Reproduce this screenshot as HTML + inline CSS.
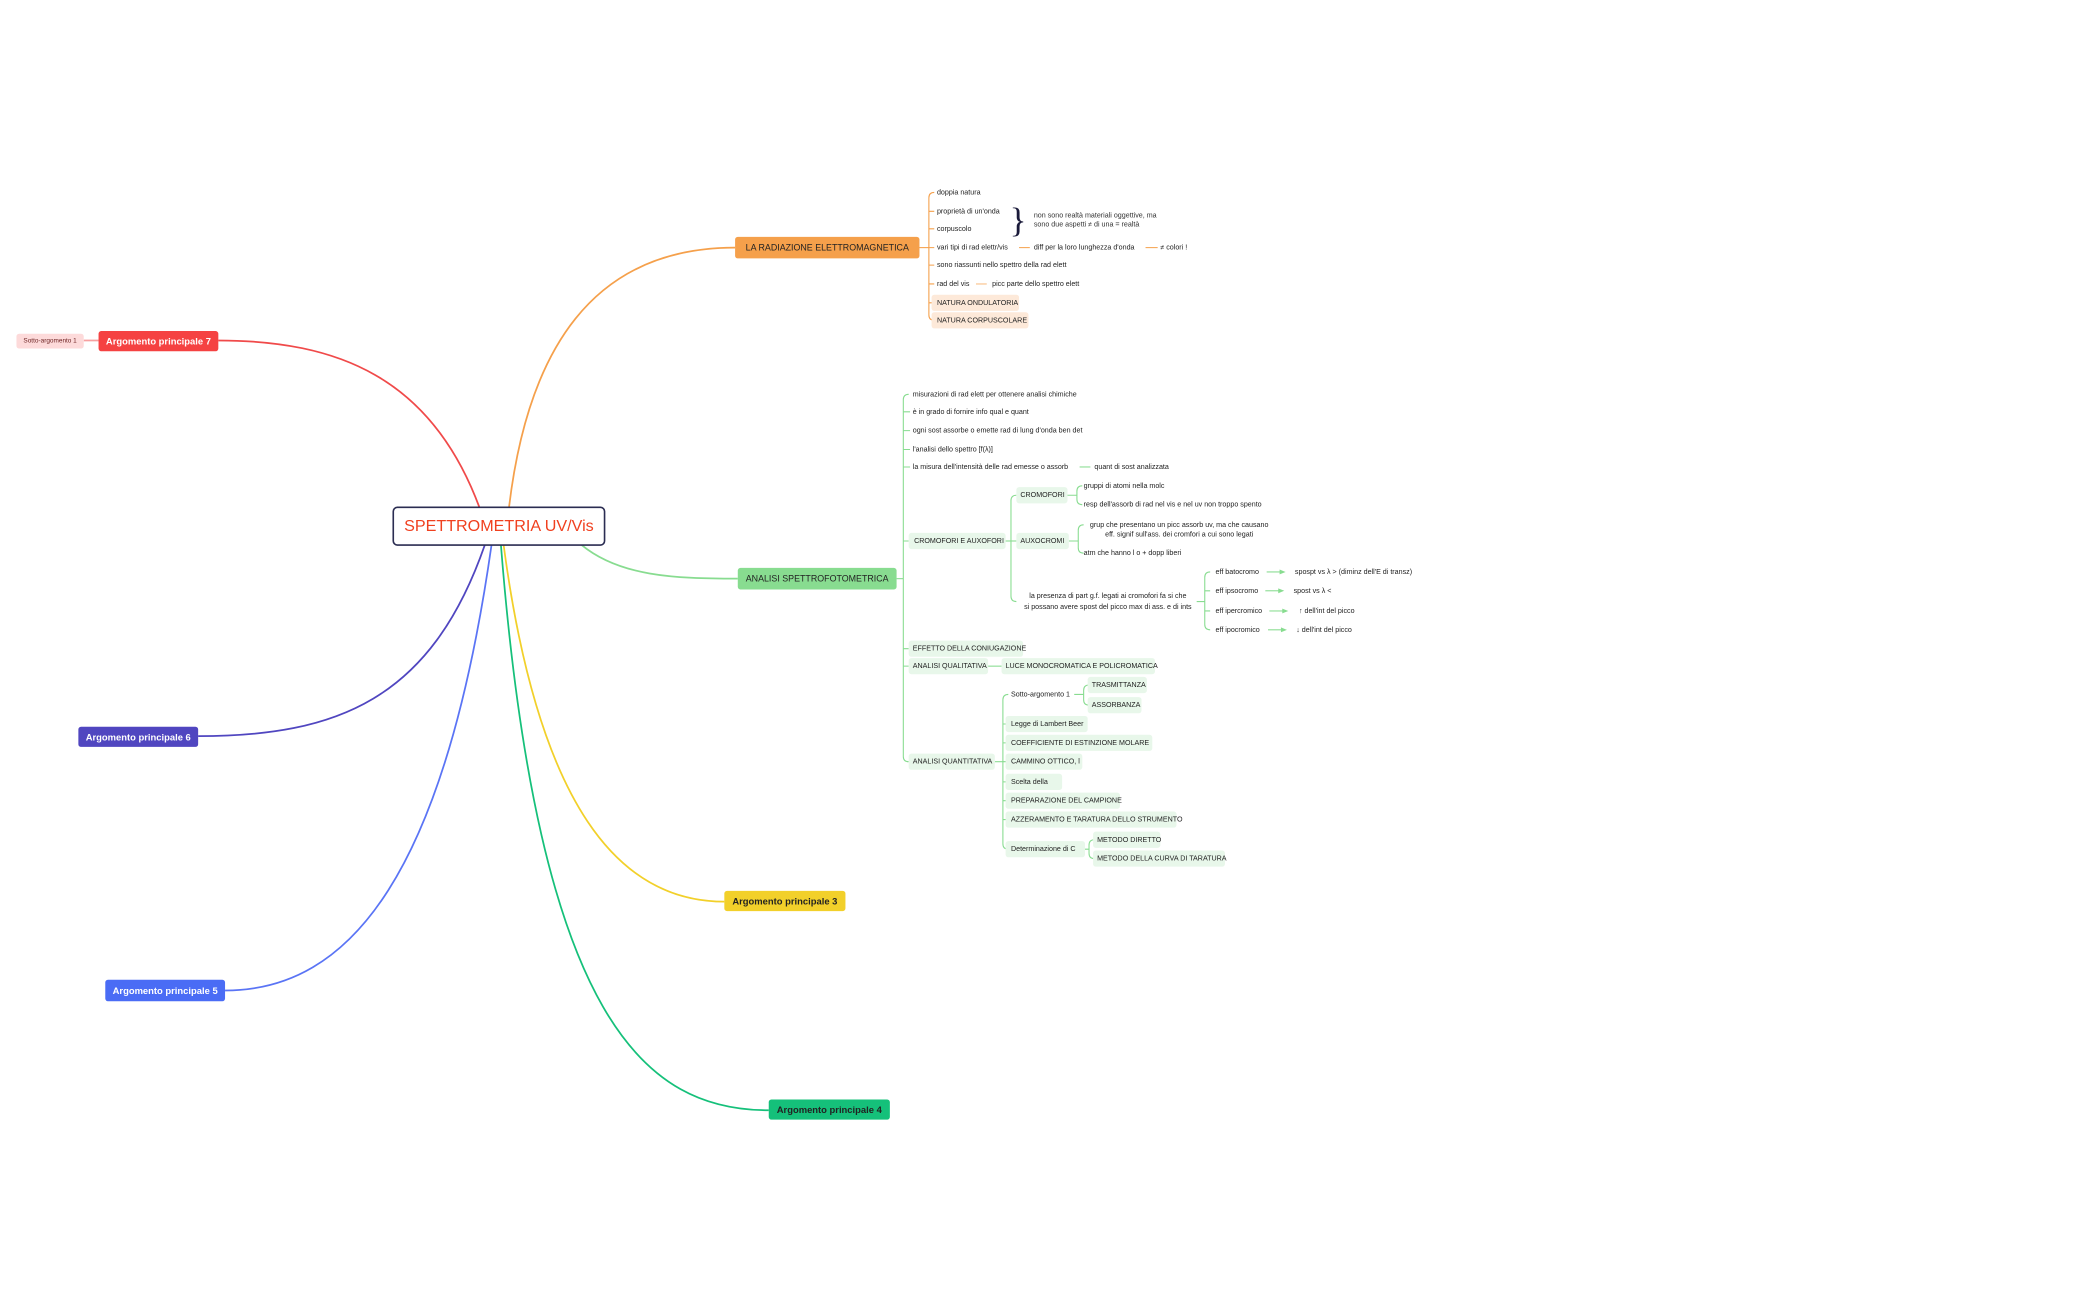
<!DOCTYPE html>
<html><head><meta charset="utf-8"><style>
html,body{margin:0;padding:0;background:#fff;}
svg{display:block}
text{font-family:"Liberation Sans",sans-serif;fill:#222;dominant-baseline:central}
.s{font-size:5.3px}
.m{font-size:7px;font-weight:bold}
</style></head><body>
<svg width="2100" height="1300" viewBox="0 0 1560 966" xmlns="http://www.w3.org/2000/svg">
<rect width="1560" height="966" fill="#fff"/>
<g fill="none" stroke-width="1.3">
<path d="M378,377 C392,260 440,184 546,184" stroke="#f5a04b"/>
<path d="M356,377 C320,280 250,253 162,253" stroke="#f04a4a"/>
<path d="M360,405 C320,520 250,547 147,547" stroke="#5046c0"/>
<path d="M365,405 C330,650 260,736 167,736" stroke="#5a74f5"/>
<path d="M374,405 C400,600 460,670 538,670" stroke="#f2d02a"/>
<path d="M372,405 C400,760 480,825 571,825" stroke="#15c07a"/>
<path d="M432,405 C460,428 500,430 548,430" stroke="#88dc90"/>
<path d="M62,253 L73,253" stroke="#f7a0a0"/>
</g>
<rect x="292" y="377" width="157" height="28" rx="3" fill="#fff" stroke="#2b2d52" stroke-width="1.2"/>
<text x="370.5" y="391" text-anchor="middle" style="font-size:12px;fill:#f0401f">SPETTROMETRIA UV/Vis</text>
<rect x="546" y="176" width="137" height="16" rx="2" fill="#f5a04b"/>
<text x="614.5" y="184" text-anchor="middle" style="font-size:6.6px;fill:#222">LA RADIAZIONE ELETTROMAGNETICA</text>
<rect x="548" y="422" width="118" height="16" rx="2" fill="#88dc90"/>
<text x="607" y="430" text-anchor="middle" style="font-size:6.6px;fill:#222">ANALISI SPETTROFOTOMETRICA</text>
<rect x="73" y="246" width="89" height="15" rx="2" fill="#f54242"/>
<text x="117.5" y="253.5" text-anchor="middle" class="m" style="fill:#fff">Argomento principale 7</text>
<rect x="12" y="248" width="50" height="11" rx="2" fill="#fddada"/>
<text x="37" y="253.5" text-anchor="middle" style="font-size:4.8px;fill:#6a1f1f">Sotto-argomento 1</text>
<rect x="58" y="540" width="89" height="15" rx="2" fill="#5046c0"/>
<text x="102.5" y="547.5" text-anchor="middle" class="m" style="fill:#fff">Argomento principale 6</text>
<rect x="78" y="728" width="89" height="16" rx="2" fill="#4a6cf5"/>
<text x="122.5" y="736" text-anchor="middle" class="m" style="fill:#fff">Argomento principale 5</text>
<rect x="538" y="662" width="90" height="15" rx="2" fill="#f2d02a"/>
<text x="583" y="669.5" text-anchor="middle" class="m">Argomento principale 3</text>
<rect x="571" y="817" width="90" height="15" rx="2" fill="#15c07a"/>
<text x="616" y="824.5" text-anchor="middle" class="m">Argomento principale 4</text>

<g fill="none" stroke="#f5a04b" stroke-width="0.8">
<path d="M683,184 H690"/>
<path d="M694,143 Q690,143 690,147 V234 Q690,238 694,238"/>
<path d="M690,157 H694 M690,170 H694 M690,184 H694 M690,197 H694 M690,211 H694 M690,225 H694"/>
<path d="M757,184 H765 M851,184 H860"/>
<path d="M725,211 H733" stroke="#fbd3ad" stroke-width="1.2"/>
</g>
<text x="696" y="143" class="s">doppia natura</text>
<text x="696" y="157" class="s">proprietà di un'onda</text>
<text x="696" y="170" class="s">corpuscolo</text>
<text x="750" y="164" style="font-size:26px;fill:#1a1a3a;font-family:'Liberation Serif',serif">}</text>
<text x="768" y="160" class="s" style="fill:#333">non sono realtà materiali oggettive, ma</text>
<text x="768" y="167" class="s" style="fill:#333">sono due aspetti ≠ di una = realtà</text>
<text x="696" y="184" class="s">vari tipi di rad elettr/vis</text>
<text x="768" y="184" class="s">diff per la loro lunghezza d'onda</text>
<text x="862" y="184" class="s">≠ colori !</text>
<text x="696" y="197" class="s">sono riassunti nello spettro della rad elett</text>
<text x="696" y="211" class="s">rad del vis</text>
<text x="737" y="211" class="s">picc parte dello spettro elett</text>
<rect x="692" y="219" width="65" height="12" rx="2" fill="#fde9d9"/>
<text x="696" y="225" class="s">NATURA ONDULATORIA</text>
<rect x="692" y="232" width="72" height="12" rx="2" fill="#fde9d9"/>
<text x="696" y="238" class="s">NATURA CORPUSCOLARE</text>

<g fill="none" stroke="#88dc90" stroke-width="0.8">
<path d="M666,430 H671"/>
<path d="M675,293 Q671,293 671,297 V562 Q671,566 675,566"/>
<path d="M671,306 H676 M671,320 H676 M671,334 H676 M671,347 H676 M671,402 H675 M671,482 H675 M671,495 H675"/>
<path d="M802,347 H810"/>
<path d="M747,402 H755"/>
<path d="M755,368 Q751,368 751,372 V443 Q751,447 755,447"/>
<path d="M793,368 H800 M804,361 Q800,361 800,365 V371 Q800,375 804,375"/>
<path d="M794,402 H801 M805,390 Q801,390 801,394 V407 Q801,411 805,411"/>
<path d="M889,447 H895 M899,425 Q895,425 895,429 V464 Q895,468 899,468"/>
<path d="M895,439 H899 M895,454 H899"/>
<path d="M734,495 H744"/>
<path d="M739,566 H745"/>
<path d="M749,516 Q745,516 745,520 V627 Q745,631 749,631"/>
<path d="M745,538 H748 M745,552 H748 M745,566 H748 M745,581 H748 M745,595 H748 M745,609 H748"/>
<path d="M798,516 H805 M809,509 Q805,509 805,513 V520 Q805,524 809,524"/>
<path d="M806,631 H809 M813,624 Q809,624 809,628 V634 Q809,638 813,638"/>
</g>
<g stroke="#88dc90" stroke-width="0.8" fill="#88dc90">
<path d="M941,425 H951" fill="none"/><path d="M954,425 l-3,-1.2 v2.4z"/>
<path d="M940,439 H950" fill="none"/><path d="M953,439 l-3,-1.2 v2.4z"/>
<path d="M943,454 H953" fill="none"/><path d="M956,454 l-3,-1.2 v2.4z"/>
<path d="M942,468 H952" fill="none"/><path d="M955,468 l-3,-1.2 v2.4z"/>
</g>
<text x="678" y="293" class="s">misurazioni di rad elett per ottenere analisi chimiche</text>
<text x="678" y="306" class="s">è in grado di fornire info qual e quant</text>
<text x="678" y="320" class="s">ogni sost assorbe o emette rad di lung d'onda ben det</text>
<text x="678" y="334" class="s">l'analisi dello spettro [f(λ)]</text>
<text x="678" y="347" class="s">la misura dell'intensità delle rad emesse o assorb</text>
<text x="813" y="347" class="s">quant di sost analizzata</text>
<g fill="#e8f7ea">
<rect x="675" y="396" width="72" height="12" rx="2"/>
<rect x="755" y="362" width="38" height="12" rx="2"/>
<rect x="755" y="396" width="39" height="12" rx="2"/>
<rect x="675" y="476" width="85" height="12" rx="2"/>
<rect x="675" y="489" width="59" height="12" rx="2"/>
<rect x="744" y="489" width="114" height="12" rx="2"/>
<rect x="675" y="560" width="64" height="12" rx="2"/>
<rect x="808" y="503" width="44" height="12" rx="2"/>
<rect x="808" y="518" width="40" height="12" rx="2"/>
<rect x="747" y="532" width="61" height="12" rx="2"/>
<rect x="747" y="546" width="109" height="12" rx="2"/>
<rect x="747" y="560" width="57" height="12" rx="2"/>
<rect x="747" y="575" width="42" height="12" rx="2"/>
<rect x="747" y="589" width="85" height="12" rx="2"/>
<rect x="747" y="603" width="127" height="12" rx="2"/>
<rect x="747" y="625" width="59" height="12" rx="2"/>
<rect x="812" y="618" width="50" height="12" rx="2"/>
<rect x="812" y="632" width="98" height="12" rx="2"/>
</g>
<text x="679" y="402" class="s">CROMOFORI E AUXOFORI</text>
<text x="758" y="368" class="s">CROMOFORI</text>
<text x="758" y="402" class="s">AUXOCROMI</text>
<text x="805" y="361" class="s">gruppi di atomi nella molc</text>
<text x="805" y="375" class="s">resp dell'assorb di rad nel vis e nel uv non troppo spento</text>
<text x="876" y="390" class="s" text-anchor="middle">grup che presentano un picc assorb uv, ma che causano</text>
<text x="876" y="397" class="s" text-anchor="middle">eff. signif sull'ass. dei cromfori a cui sono legati</text>
<text x="805" y="411" class="s">atm che hanno l o + dopp liberi</text>
<text x="823" y="443" class="s" text-anchor="middle">la presenza di part g.f. legati ai cromofori fa si che</text>
<text x="823" y="451" class="s" text-anchor="middle">si possano avere spost del picco max di ass. e di ints</text>
<text x="903" y="425" class="s">eff batocromo</text>
<text x="903" y="439" class="s">eff ipsocromo</text>
<text x="903" y="454" class="s">eff ipercromico</text>
<text x="903" y="468" class="s">eff ipocromico</text>
<text x="962" y="425" class="s">spospt vs λ &gt; (diminz dell'E di transz)</text>
<text x="961" y="439" class="s">spost vs λ &lt;</text>
<text x="965" y="454" class="s">↑ dell'int del picco</text>
<text x="963" y="468" class="s">↓ dell'int del picco</text>
<text x="678" y="482" class="s">EFFETTO DELLA CONIUGAZIONE</text>
<text x="678" y="495" class="s">ANALISI QUALITATIVA</text>
<text x="747" y="495" class="s">LUCE MONOCROMATICA E POLICROMATICA</text>
<text x="678" y="566" class="s">ANALISI QUANTITATIVA</text>
<text x="751" y="516" class="s">Sotto-argomento 1</text>
<text x="811" y="509" class="s">TRASMITTANZA</text>
<text x="811" y="524" class="s">ASSORBANZA</text>
<text x="751" y="538" class="s">Legge di Lambert Beer</text>
<text x="751" y="552" class="s">COEFFICIENTE DI ESTINZIONE MOLARE</text>
<text x="751" y="566" class="s">CAMMINO OTTICO, l</text>
<text x="751" y="581" class="s">Scelta della</text>
<text x="751" y="595" class="s">PREPARAZIONE DEL CAMPIONE</text>
<text x="751" y="609" class="s">AZZERAMENTO E TARATURA DELLO STRUMENTO</text>
<text x="751" y="631" class="s">Determinazione di C</text>
<text x="815" y="624" class="s">METODO DIRETTO</text>
<text x="815" y="638" class="s">METODO DELLA CURVA DI TARATURA</text>
</svg>
</body></html>
